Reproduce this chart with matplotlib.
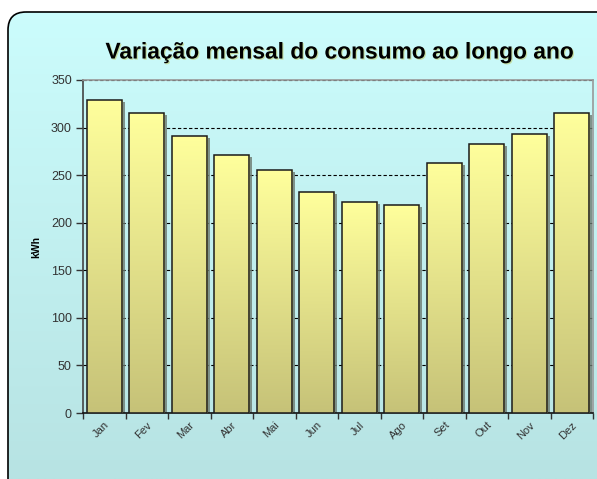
"""
Monthly consumption bar chart (kWh), Excel-like look.
"""

import numpy as np
import matplotlib
matplotlib.use('Agg')
import matplotlib.pyplot as plt
import matplotlib.patheffects as pe
from matplotlib.patches import FancyBboxPatch
from matplotlib.colors import LinearSegmentedColormap

meses = ['Jan', 'Fev', 'Mar', 'Abr', 'Mai', 'Jun',
         'Jul', 'Ago', 'Set', 'Out', 'Nov', 'Dez']
consumo = [329, 315, 291, 271, 255, 232, 222, 219, 263, 283, 293, 315]
y_ticks = [0, 50, 100, 150, 200, 250, 300, 350]

W, H = 597, 479
plt.rcParams['font.family'] = ['Liberation Sans', 'DejaVu Sans']

fig = plt.figure(figsize=(W / 100, H / 100), dpi=100)
fig.patch.set_facecolor('white')

# background panel with rounded corner and a cyan gradient
bg_ax = fig.add_axes([0, 0, 1, 1], zorder=-1)
bg_ax.set_xlim(0, W); bg_ax.set_ylim(H, 0)
bg_ax.axis('off')
panel = FancyBboxPatch((8, 12), W + 40, H + 40,
                       boxstyle='round,pad=0,rounding_size=18',
                       facecolor='none', edgecolor='black', linewidth=1.2)
bg_ax.add_patch(panel)
cyan = LinearSegmentedColormap.from_list('cy', ['#ccfdfd', '#b7e3e3'])
grad = np.linspace(0, 1, 256).reshape(-1, 1)
im = bg_ax.imshow(grad, cmap=cyan, aspect='auto', extent=[0, W, H, 0],
                  origin='upper')
im.set_clip_path(panel)

# plot area
ax = fig.add_axes([83 / W, 1 - 413 / H, (593 - 83) / W, (413 - 80) / H])
ax.patch.set_alpha(0)
x = np.arange(len(meses))

ax.set_yticks(y_ticks)
ax.yaxis.grid(True, color='black', linestyle=(0, (3, 2)), linewidth=0.8)
ax.set_axisbelow(True)

bars = ax.bar(x, consumo, width=0.83, color='#e8e690', edgecolor='none',
              zorder=2)
for b in bars:
    b.set_path_effects([pe.SimplePatchShadow(offset=(2, -1.5),
                                             shadow_rgbFace='#6d7a70',
                                             alpha=0.8), pe.Normal()])

yellow = LinearSegmentedColormap.from_list('ye', ['#ffff9c', '#c6c278'])
for b in bars:
    bx, by = b.get_x(), b.get_y()
    bw, bh = b.get_width(), b.get_height()
    gi = ax.imshow(grad, cmap=yellow, aspect='auto', origin='upper',
                   extent=[bx, bx + bw, by, by + bh], zorder=3)
    gi.set_clip_path(b)
ax.bar(x, consumo, width=0.83, facecolor='none', edgecolor='#1a1a1a',
       linewidth=1.1, zorder=4)
ax.set_xlim(-0.5, len(meses) - 0.5)
ax.set_ylim(0, 350)

# category ticks between bars, labels at centres
ax.set_xticks(np.arange(len(meses) + 1) - 0.5)
ax.set_xticklabels([])
ax.set_xticks(x, minor=True)
ax.set_xticklabels(meses, minor=True, rotation=45, ha='right',
                   va='top', rotation_mode='anchor', fontsize=8,
                   color='#333333')
ax.tick_params(axis='x', which='minor', length=0, pad=5)
ax.tick_params(axis='x', which='major', length=4, width=1, color='#333333',
               direction='out')
ax.tick_params(axis='y', length=5, width=1, color='#333333', pad=3,
               labelsize=9, labelcolor='#333333')

for s in ['top', 'right']:
    ax.spines[s].set_color('#999999')
    ax.spines[s].set_linewidth(1.2)
ax.spines['left'].set_color('#444444')
ax.spines['bottom'].set_color('#111111')
ax.spines['left'].set_linewidth(1.2)
ax.spines['bottom'].set_linewidth(1.2)

ax.set_ylabel('kWh', fontsize=7.5, fontweight='bold', labelpad=7)

fig.text(339 / W, 1 - 52 / H, 'Variação mensal do consumo ao longo ano',
         ha='center', va='center', fontsize=16.4, fontweight='bold',
         color='black',
         path_effects=[pe.withSimplePatchShadow(offset=(0.8, -0.8),
                                                shadow_rgbFace='#b8a800',
                                                alpha=0.35)])

fig.savefig('out.png', dpi=100)
